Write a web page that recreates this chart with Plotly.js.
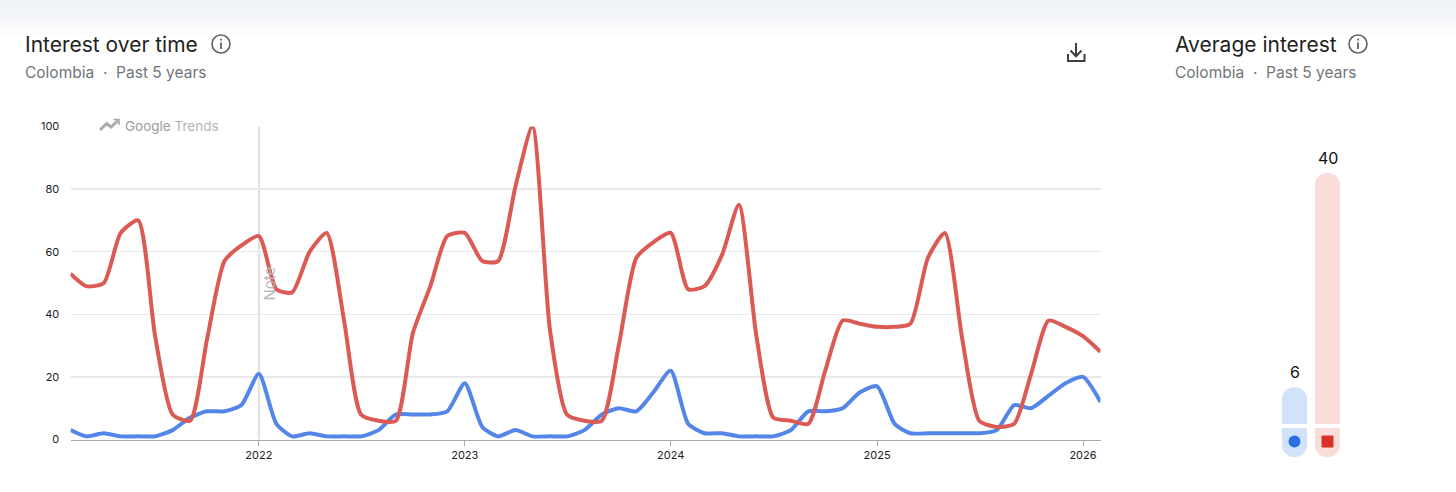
<!DOCTYPE html>
<html><head><meta charset="utf-8">
<script src="https://cdn.plot.ly/plotly-3.0.1.min.js"></script>
<style>
html,body{margin:0;padding:0;background:#fff;overflow:hidden}
#bg{position:absolute;left:0;top:0;width:1456px;height:38px;background:linear-gradient(#eef1f6,#f3f5f9 40%,#ffffff)}
#c{position:absolute;left:0;top:0;width:1456px;height:492px}
</style></head><body><div id="bg"></div><div id="c"></div>
<script>
const months=['2021-02','2021-03','2021-04','2021-05','2021-06','2021-07','2021-08','2021-09','2021-10','2021-11','2021-12',
'2022-01','2022-02','2022-03','2022-04','2022-05','2022-06','2022-07','2022-08','2022-09','2022-10','2022-11','2022-12',
'2023-01','2023-02','2023-03','2023-04','2023-05','2023-06','2023-07','2023-08','2023-09','2023-10','2023-11','2023-12',
'2024-01','2024-02','2024-03','2024-04','2024-05','2024-06','2024-07','2024-08','2024-09','2024-10','2024-11','2024-12',
'2025-01','2025-02','2025-03','2025-04','2025-05','2025-06','2025-07','2025-08','2025-09','2025-10','2025-11','2025-12',
'2026-01','2026-02'];
const redSeries=[53,49,50,66,70,33,8,6,32,57,62,
65,48,47,60,66,38,8,6,6,34,49,65,
66,57,57,81,100,35,8,6,6,30,58,63,
66,48,49,59,75,33,7,6,5,22,38,37,
36,36,37,58,66,32,6,4,5,21,38,36,
33,28];
const blueSeries=[3,1,2,1,1,1,3,7,9,9,11,
21,5,1,2,1,1,1,3,8,8,8,9,
18,4,1,3,1,1,1,3,8,10,9,15,
22,5,2,2,1,1,1,3,9,9,10,15,
17,5,2,2,2,2,2,3,11,10,14,18,
20,12];
const yearTicks=['2022-01','2023-01','2024-01','2025-01','2026-01'];
const yearLabels=['2022','2023','2024','2025','2026'];
const yTicks=[0,20,40,60,80,100];
const averages=[6,40];
const barPale=['#d2e2fb','#fadcd9'];
const dotColors=['#2a6fe3','#d9302a'];
const pillBottom=-5.08;
const dotY=[-2.62,-2.62];

const W=1456,H=492;
const fx=x=>x/W, fy=y=>1-y/H;
const pth=a=>a.map(s=>s[0]+' '+fx(s[1])+' '+fy(s[2])).join(' ');
const lineShape=(a,color,w)=>({type:'path',xref:'paper',yref:'paper',path:pth(a),line:{color:color,width:w},layer:'above'});
const info=(cx,cy)=>[
 {type:'circle',xref:'paper',yref:'paper',x0:fx(cx-9),x1:fx(cx+9),y0:fy(cy+9),y1:fy(cy-9),line:{color:'#5f6368',width:1.6},layer:'above'},
 lineShape([['M',cx,cy-1.5],['L',cx,cy+5]],'#5f6368',1.8),
 lineShape([['M',cx,cy-5.2],['L',cx,cy-3.6]],'#5f6368',1.8)
];
const txt=(t,x,y,size,color,extra)=>Object.assign({text:t,xref:'paper',yref:'paper',x:fx(x),y:fy(y),xanchor:'left',yanchor:'middle',showarrow:false,borderpad:0,font:{family:'Inter, Roboto, sans-serif',size:size,color:color}},extra||{});

const traces=[
 {x:months,y:blueSeries,type:'scatter',mode:'lines',line:{color:'#5486e9',width:4,shape:'spline',smoothing:0.62},cliponaxis:false,hoverinfo:'skip'},
 {x:months,y:redSeries,type:'scatter',mode:'lines',line:{color:'#dc5a54',width:4,shape:'spline',smoothing:0.62},cliponaxis:false,hoverinfo:'skip'},
 {x:[0,1],y:averages.map(v=>v-pillBottom),base:[pillBottom,pillBottom],type:'bar',xaxis:'x2',yaxis:'y2',width:0.76,marker:{color:barPale,cornerradius:12.5},hoverinfo:'skip'},
 {x:[0],y:[dotY[0]],type:'scatter',mode:'markers',xaxis:'x2',yaxis:'y2',marker:{color:dotColors[0],size:12,symbol:'circle'},hoverinfo:'skip'},
 {x:[1],y:[dotY[1]],type:'scatter',mode:'markers',xaxis:'x2',yaxis:'y2',marker:{color:dotColors[1],size:11,symbol:'square',line:{color:dotColors[1],width:1}},hoverinfo:'skip'}
];
const layout={
 width:W,height:H,autosize:false,margin:{l:0,r:0,t:0,b:0},showlegend:false,barmode:'overlay',
 paper_bgcolor:'rgba(0,0,0,0)',plot_bgcolor:'rgba(0,0,0,0)',
 xaxis:{type:'date',domain:[fx(70.5),fx(1100.5)],range:['2021-02-01','2026-02-01'],tickmode:'array',tickvals:yearTicks,ticktext:yearLabels,
  showgrid:false,zeroline:false,showline:true,linecolor:'#a8a8a8',linewidth:1.5,ticks:'outside',ticklen:5,tickwidth:1,tickcolor:'#a8a8a8',
  tickfont:{family:'Inter, Roboto, sans-serif',size:11,color:'#202124'}},
 yaxis:{domain:[fy(439.5),fy(126.5)],range:[0,100],tickmode:'array',tickvals:yTicks,showgrid:true,gridcolor:'#e9e9e9',gridwidth:1.4,zeroline:false,showline:false,
  ticks:'outside',ticklen:8,tickcolor:'rgba(0,0,0,0)',tickfont:{family:'Inter, Roboto, sans-serif',size:11,color:'#202124'}},
 xaxis2:{domain:[fx(1261.5),fx(1360.5)],range:[-1,2],anchor:'y2',visible:false},
 yaxis2:{domain:[fy(470),fy(140)],range:[-7.14,45.24],anchor:'x2',visible:false},
 shapes:[
  {type:'line',xref:'x',yref:'y',x0:'2022-01',x1:'2022-01',y0:0,y1:100,line:{color:'#e0e0e0',width:2},layer:'below'},
  {type:'rect',xref:'x2',yref:'y2',x0:-0.45,x1:1.45,y0:-0.48,y1:0.16,line:{width:0},fillcolor:'#ffffff',layer:'above'},
  {type:'rect',xref:'paper',yref:'paper',x0:fx(93),x1:fx(224),y0:fy(129),y1:fy(123),line:{width:0},fillcolor:'#ffffff',layer:'above'},
  ...info(221,44),...info(1358,44),
  lineShape([['M',100,130],['L',106.7,123.5],['L',111,127],['L',118,120.5]],'#a9a9a9',3),
  lineShape([['M',113.5,119.5],['L',119,119.5],['L',119,125]],'#a9a9a9',1.6),
  lineShape([['M',1076,43],['L',1076,56]],'#3c4043',2),
  lineShape([['M',1070.5,50.5],['L',1076,56.2],['L',1081.5,50.5]],'#3c4043',2),
  lineShape([['M',1068,54],['L',1068,61],['L',1084.5,61],['L',1084.5,54]],'#3c4043',2)
 ],
 annotations:[
  txt('Interest over time',23.5,44,21,'#1f1f1f'),
  txt('Colombia  ·  Past 5 years',23.5,72,15.5,'#70757a'),
  txt('Average interest',1173.5,44,21,'#1f1f1f'),
  txt('Colombia  ·  Past 5 years',1173.5,72,15.5,'#70757a'),
  txt('<span style="color:#9b9b9b">Google</span> <span style="color:#b4b4b4">Trends</span>',124,125.5,13.5,'#9b9b9b'),
  txt('Note',269,283.5,15,'#b9b9b9',{textangle:-90,xanchor:'center'}),
  ...averages.map((v,i)=>({text:String(v),xref:'x2',yref:'y2',x:i,y:v,yshift:15,showarrow:false,xanchor:'center',yanchor:'middle',font:{family:'Inter, Roboto, sans-serif',size:16,color:'#111'}}))
 ]
};
Plotly.newPlot('c',traces,layout,{displayModeBar:false,staticPlot:true});
</script></body></html>
